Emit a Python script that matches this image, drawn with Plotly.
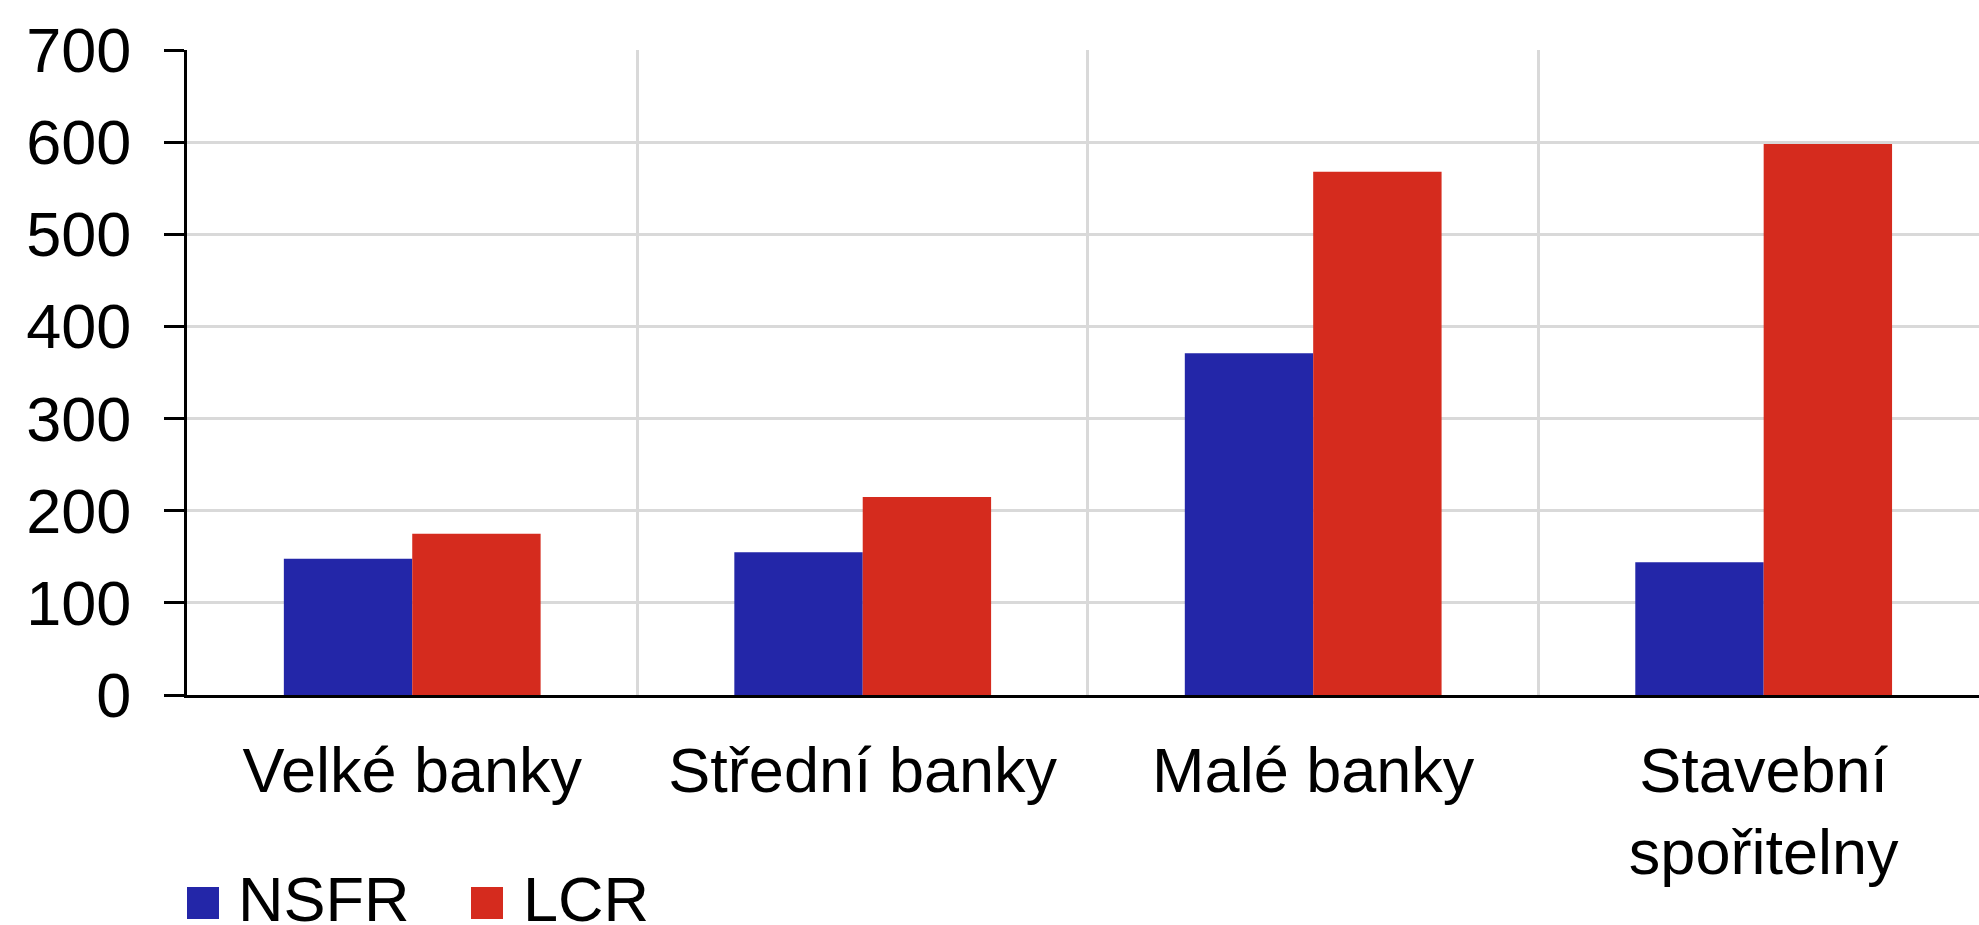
import plotly.graph_objects as go

categories = ["Velké banky", "Střední banky", "Malé banky", "Stavební<br>spořitelny"]
series_names = ["NSFR", "LCR"]
nsfr = [148, 155, 371, 144]
lcr = [175, 215, 568, 598]
colors = ["#2326a8", "#d52b1e"]
y_ticks = [0, 100, 200, 300, 400, 500, 600, 700]

FONT = "Liberation Sans, Arial, sans-serif"
FS = 63

W, H = 1979, 925
ML, MR, MT, MB = 187, 0, 50, 230
PW = W - ML - MR
PH = H - MT - MB

fig = go.Figure()
for name, vals, col in zip(series_names, [nsfr, lcr], colors):
    fig.add_trace(go.Bar(x=categories, y=vals, name=name, marker_color=col,
                         marker_line_width=0, showlegend=False))

# custom legend (large square swatches)
def px_x(p):
    return (p - ML) / PW

def px_y(p):
    return (H - MB - p) / PH

legend_items = [(187, 236), (471, 521)]
for (bx, tx), name, col in zip(legend_items, series_names, colors):
    fig.add_shape(type="rect", xref="paper", yref="paper",
                  x0=px_x(bx), x1=px_x(bx + 32), y0=px_y(919), y1=px_y(887),
                  fillcolor=col, line_width=0)
    fig.add_annotation(xref="paper", yref="paper", x=px_x(tx), y=px_y(899),
                       xanchor="left", yanchor="middle", text=name, showarrow=False,
                       font=dict(family=FONT, size=FS, color="black"))

fig.update_layout(
    width=W, height=H,
    margin=dict(l=ML, r=MR, t=MT, b=MB, pad=0),
    paper_bgcolor="white", plot_bgcolor="white",
    barmode="group", bargap=0.43, bargroupgap=0,
    font=dict(family=FONT, size=FS, color="black"),
    xaxis=dict(
        type="category", range=[-0.5, 3.478],
        showline=True, linecolor="black", linewidth=3,
        ticks="", tickson="boundaries",
        showgrid=True, gridcolor="#d9d9d9", gridwidth=3,
        tickfont=dict(family=FONT, size=FS, color="black"),
        ticklabelstandoff=18,
    ),
    yaxis=dict(
        range=[0, 700], tickvals=y_ticks,
        showline=True, linecolor="black", linewidth=3,
        ticks="outside", ticklen=20, tickwidth=3, tickcolor="black",
        showgrid=True, gridcolor="#d9d9d9", gridwidth=3,
        zeroline=False,
        tickfont=dict(family=FONT, size=FS, color="black"),
        ticklabelstandoff=20,
    ),
)

fig.write_html("out.html")
